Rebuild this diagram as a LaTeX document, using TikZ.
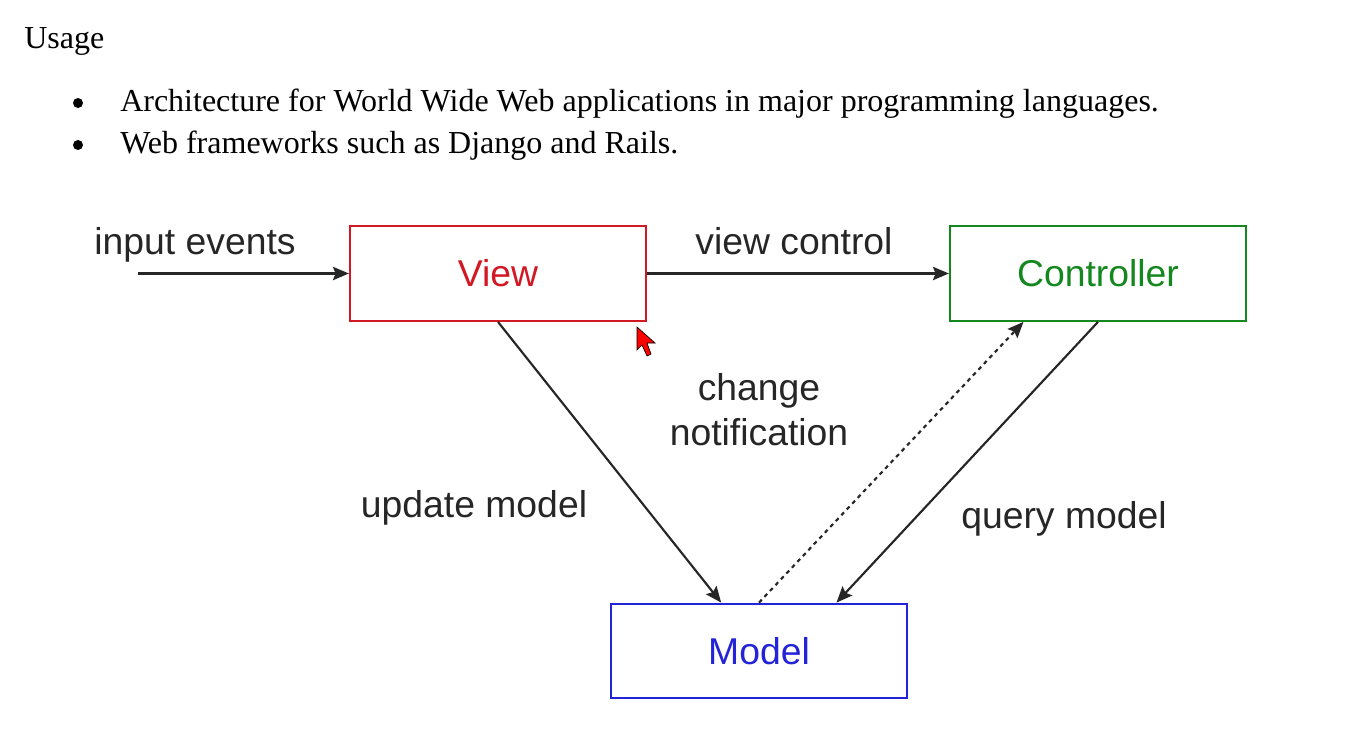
\documentclass[tikz,border=0pt]{standalone}
\usepackage{fontspec}
\setmainfont{Liberation Serif}
\setsansfont{Liberation Sans}
\usetikzlibrary{arrows.meta}

\definecolor{ViewRed}{RGB}{210,25,35}
\definecolor{CtrlGreen}{RGB}{20,135,30}
\definecolor{ModelBlue}{RGB}{35,35,215}

\begin{document}
\begin{tikzpicture}[x=0.75pt, y=-0.75pt,
    box/.style={draw, line width=1.6pt, minimum width=222pt, minimum height=71pt, inner sep=0pt, font=\sffamily\fontsize{28}{32}\selectfont},
    lbl/.style={font=\sffamily\fontsize{28}{32}\selectfont, text=black!85, anchor=base, inner sep=0pt},
    doc/.style={font=\fontsize{24}{28}\selectfont, anchor=base west, inner sep=0pt},
    dot/.style={circle, fill=black, inner sep=0pt, minimum size=7.5pt},
    conn/.style={line width=1.6pt, draw=black!85, -{Stealth[length=12pt,width=10pt,inset=2pt]}}
  ]
    \useasboundingbox (0,0) rectangle (1356,750);

    % Usage text
    \node[doc] (usage) at (24,48) {Usage};
    \node[dot] (dot1) at (78,103) {};
    \node[doc] (item1) at (120,111) {Architecture for World Wide Web applications in major programming languages.};
    \node[dot] (dot2) at (78,145) {};
    \node[doc] (item2) at (120,153) {Web frameworks such as Django and Rails.};

    % Boxes
    \node[box, draw=ViewRed, text=ViewRed] (view) at (498,273.5) {View};
    \node[box, draw=CtrlGreen, text=CtrlGreen] (ctrl) at (1098,273.5) {Controller};
    \node[box, draw=ModelBlue, text=ModelBlue] (model) at (759,651) {Model};

    % Connectors
    \coordinate (in) at (138,273.5);
    \draw[conn] (in) -- (view.west);
    \draw[conn] (view.east) -- (ctrl.west);
    \draw[conn] (view.south) -- (model.128);
    \draw[conn, dashed] (model.north) -- (ctrl.213);
    \draw[conn] (ctrl.south) -- (model.32);

    % Labels
    \node[lbl] (inlbl) at (195,254) {input events};
    \node[lbl] (vclbl) at (794,254) {view control};
    \node[lbl] (cnlbl1) at (759,400) {change};
    \node[lbl] (cnlbl2) at (759,445) {notification};
    \node[lbl] (umlbl) at (474,517) {update model};
    \node[lbl] (qmlbl) at (1064,528) {query model};

    % mouse pointer
    \filldraw[fill=red, draw=black, line width=0.5pt]
      (637,327) -- (637,350) -- (642,345) -- (647,356) -- (651,354) -- (647,343) -- (655,343) -- cycle;
  \end{tikzpicture}
\end{document}
